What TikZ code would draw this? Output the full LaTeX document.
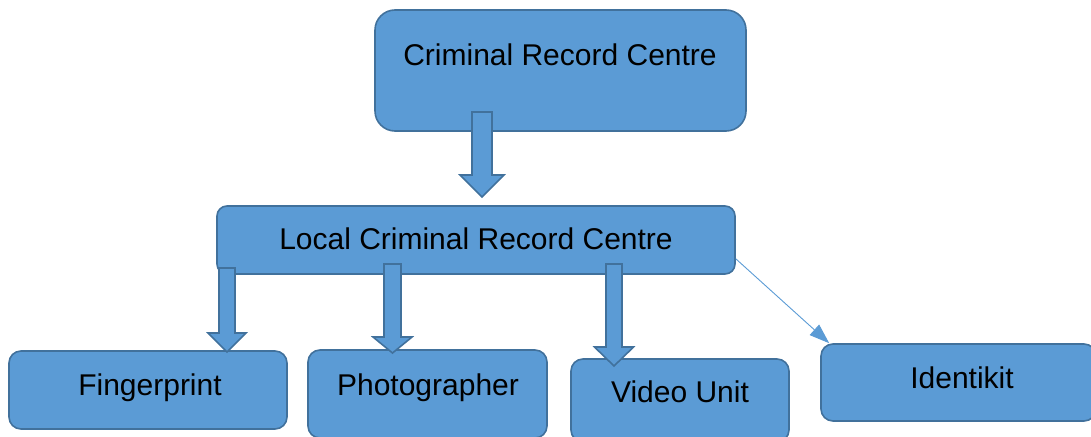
\documentclass[tikz,border=0pt]{standalone}
\usepackage{fontspec}
\setmainfont{Liberation Sans}
\usetikzlibrary{arrows.meta,calc}
\definecolor{boxfill}{HTML}{5B9BD5}
\definecolor{boxline}{HTML}{41719C}
\tikzset{
  box/.style={draw=boxline, fill=boxfill, line width=1.6pt, rounded corners=#1, inner sep=0pt},
  box/.default=12pt,
  lbl/.style={anchor=base, font=\fontsize{30}{36}\selectfont, text=black, inner sep=0pt},
  blockarrow/.style={draw=boxline, fill=boxfill, line width=1.6pt, line join=miter},
  thinarrow/.style={draw=boxfill, line width=0.9pt, -{Triangle[length=20pt,width=14pt]}}
}
\newcommand\barrow[6]{% center x, half shaft, half head, top, base, tip
  \path[blockarrow] (#1-#2,#4) -- (#1+#2,#4) -- (#1+#2,#5) -- (#1+#3,#5) -- (#1,#6) -- (#1-#3,#5) -- (#1-#2,#5) -- cycle;}
\begin{document}
\begin{tikzpicture}[x=1pt,y=-1pt]
\useasboundingbox (0,0) rectangle (1091,436);
% boxes
\node[box=20pt, minimum width=371pt, minimum height=121pt] (crc) at (560.5,70.5) {};
\node[box=10pt, minimum width=518pt, minimum height=68pt] (local) at (476,240) {};
\node[box, minimum width=278pt, minimum height=78pt] (finger) at (148,390) {};
\node[box, minimum width=239pt, minimum height=88pt] (photo) at (427.5,394) {};
\node[box, minimum width=218pt, minimum height=83pt] (video) at (680,400.5) {};
\node[box, minimum width=275pt, minimum height=77pt] (ident) at (958.5,382.5) {};
% block arrows
\barrow{482}{10}{22}{112}{175}{197}
\barrow{227}{8}{19}{268}{333}{352}
\barrow{392.5}{8.5}{19.5}{264}{337}{353}
\barrow{614}{8}{19.5}{264}{347}{366}
% thin arrow
\coordinate (ts) at ($(local.south east)+(0,-16)$);
\coordinate (te) at ($(ident.north west)+(9,0)$);
\draw[thinarrow] (ts) -- (te);
% labels
\node[lbl] (tcrc) at (560,66) {Criminal Record Centre};
\node[lbl] (tlocal) at (476,249) {Local Criminal Record Centre};
\node[lbl] (tfinger) at (150,395) {Fingerprint};
\node[lbl] (tphoto) at (428,395) {Photographer};
\node[lbl] (tvideo) at (680,402) {Video Unit};
\node[lbl] (tident) at (962,388) {Identikit};
\end{tikzpicture}
\end{document}
